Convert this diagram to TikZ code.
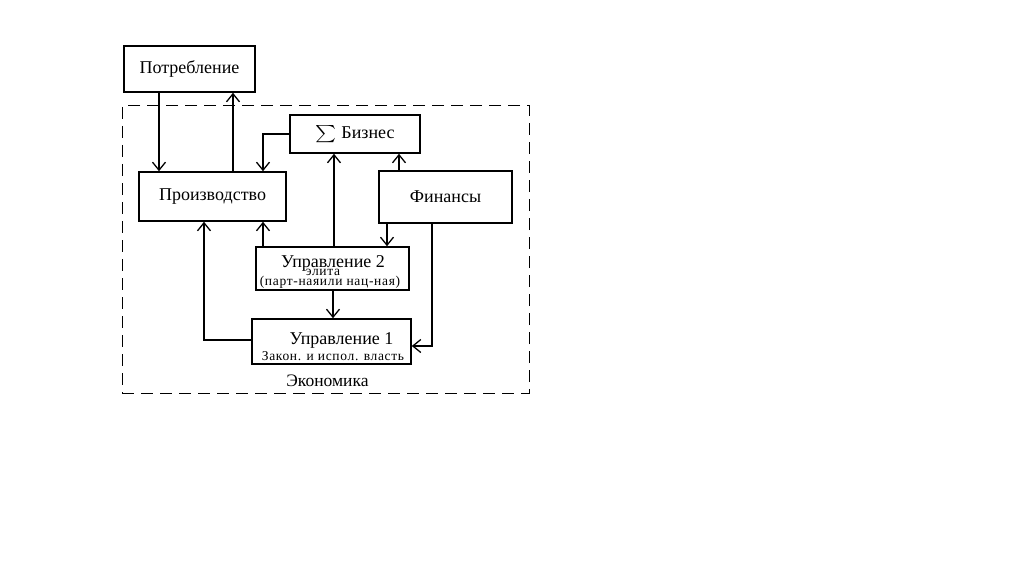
\documentclass[tikz,border=0pt]{standalone}
\usepackage{fontspec}
\usepackage{graphicx}
\setmainfont{Liberation Serif}
\newfontfamily\smallserif[LetterSpace=5]{Liberation Serif}
\usetikzlibrary{arrows.meta}
\tikzset{
  box/.style={draw, line width=1.6pt, inner sep=0pt, font=\fontsize{18}{21}\selectfont},
  arr/.style={line width=1.6pt, -{Straight Barb[length=8pt,width=13pt,line width=1.3pt]}},
  big/.style={inner sep=0pt, anchor=base, font=\fontsize{18}{21}\selectfont},
  small/.style={inner sep=0pt, anchor=base, font=\smallserif\fontsize{13.5}{15}\selectfont},
}
\begin{document}
\begin{tikzpicture}[x=1pt,y=-1pt]
\useasboundingbox[fill=white] (0,0) rectangle (1024,564);
% frame
\node[draw, dash pattern=on 12pt off 7pt, line width=1pt, minimum width=407pt, minimum height=287pt, inner sep=0pt] (frame) at (325.5,249.5) {};
\node[inner sep=0pt, anchor=base, font=\fontsize{17.5}{20}\selectfont] (econ) at (327.5,386) {Экономика};
% boxes
\node[box, minimum width=131pt, minimum height=46pt] (potr) at (189.5,69) {Потребление};
\node[box, minimum width=147pt, minimum height=49pt] (proizv) at (212.5,196.5) {Производство};
\node[box, minimum width=130pt, minimum height=38pt] (biz) at (355,134) {\raisebox{-3pt}{\resizebox{21pt}{16pt}{$\sum$}}\hspace{5pt}Бизнес};
\node[box, minimum width=133pt, minimum height=52pt] (fin) at (445.5,197) {Финансы};
\node[box, minimum width=153pt, minimum height=43pt] (upr2) at (332.5,268.5) {};
\node[box, minimum width=159pt, minimum height=45pt] (upr1) at (331.5,341.5) {};
% texts inside management boxes
\node[big] (u2a) at (333,267) {Управление 2};
\node[small] (u2b) at (323,275.5) {элита};
\node[small] (u2c) at (330,285.5) {(парт-наяили нац-ная)};
\node[big] (u1a) at (341.5,344) {Управление 1};
\node[small] (u1b) at (333,360) {Закон. и испол. власть};
% connectors
\draw[arr] ([xshift=-30.5pt]potr.south) -- ([xshift=-30.5pt]potr.south |- proizv.north);
\draw[arr] ([xshift=20.5pt]proizv.north) -- ([xshift=20.5pt]proizv.north |- potr.south);
\draw[arr] (biz.west) -| ([xshift=50.5pt]proizv.north);
\draw[arr] ([xshift=1.5pt]upr2.north) -- ([xshift=1.5pt]upr2.north |- biz.south);
\draw[arr] ([xshift=-46.5pt]fin.north) -- ([xshift=-46.5pt]fin.north |- biz.south);
\draw[arr] ([xshift=-69.5pt]upr2.north) -- ([xshift=-69.5pt]upr2.north |- proizv.south);
\draw[arr] ([yshift=1.5pt]upr1.west) -| ([xshift=-8.5pt]proizv.south);
\draw[arr] ([xshift=-58.5pt]fin.south) -- ([xshift=-58.5pt]fin.south |- upr2.north);
\draw[arr] ([xshift=0.5pt]upr2.south) -- ([xshift=0.5pt]upr2.south |- upr1.north);
\draw[arr] ([xshift=-13.5pt]fin.south) |- ([yshift=-4.5pt]upr1.east);
\end{tikzpicture}
\end{document}
